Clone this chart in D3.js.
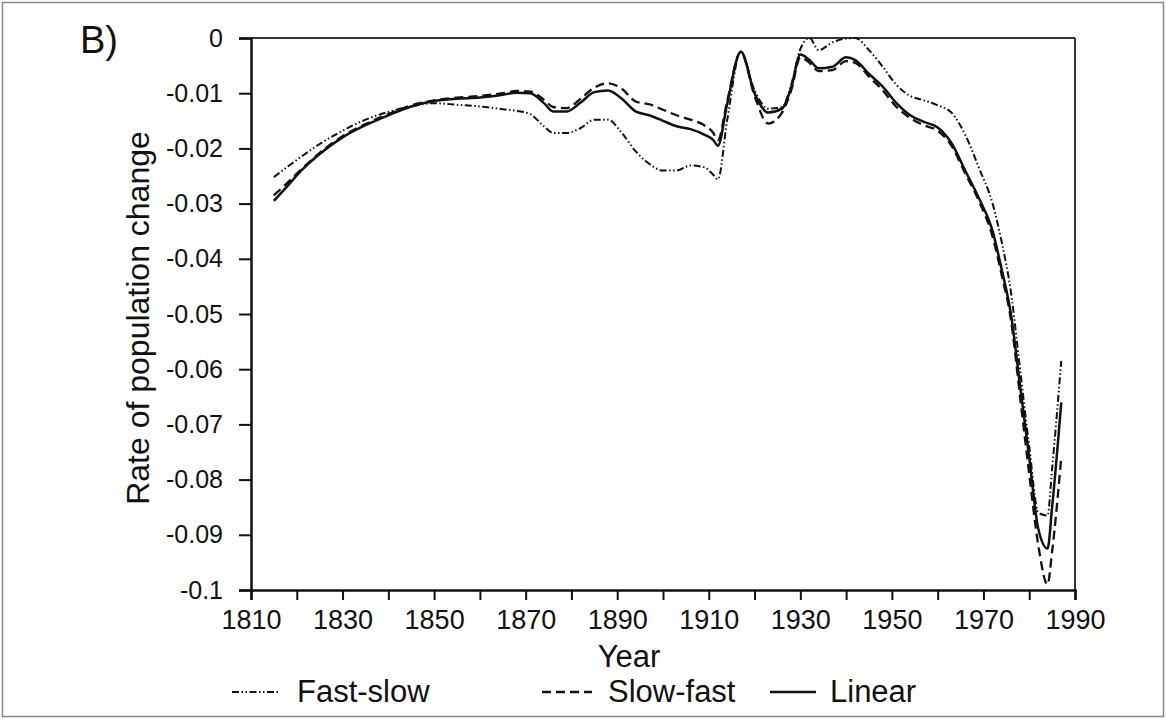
<!DOCTYPE html>
<html><head><meta charset="utf-8">
<script src="https://cdn.jsdelivr.net/npm/d3@7"></script>
<style>body{margin:0;background:#fff}svg{display:block;font-family:"Liberation Sans",Arial,sans-serif}</style>
</head><body><svg id="c" width="1166" height="719"></svg>
<script>
const years = [1815,1818,1821,1825,1830,1835,1840,1845,1850,1855,1860,1865,1868,1871,1874,1876,1879,1882,1885,1888,1891,1894,1897,1900,1903,1906,1909,1911,1912,1914,1917,1920,1923,1926,1928,1930,1932,1934,1937,1940,1942,1945,1948,1951,1954,1957,1960,1963,1966,1969,1972,1974,1976,1978,1980,1982,1984,1985,1987];
const fastSlow = [-0.0252,-0.0233,-0.0215,-0.0192,-0.0168,-0.0148,-0.0134,-0.0124,-0.0118,-0.0121,-0.0124,-0.0129,-0.0132,-0.0138,-0.0160,-0.0172,-0.0172,-0.0163,-0.0148,-0.0148,-0.0172,-0.0205,-0.0228,-0.0240,-0.0240,-0.0231,-0.0234,-0.0248,-0.0256,-0.0150,-0.0025,-0.0095,-0.0128,-0.0125,-0.0085,-0.0020,0.0000,-0.0022,-0.0008,-0.0001,0.0000,-0.0022,-0.0052,-0.0085,-0.0105,-0.0113,-0.0122,-0.0135,-0.0175,-0.0235,-0.0300,-0.0370,-0.0460,-0.0600,-0.0740,-0.0860,-0.0865,-0.0780,-0.0585];
const slowFast = [-0.0285,-0.0262,-0.0238,-0.0208,-0.0178,-0.0156,-0.0138,-0.0122,-0.0113,-0.0108,-0.0105,-0.0100,-0.0096,-0.0097,-0.0112,-0.0125,-0.0127,-0.0110,-0.0090,-0.0082,-0.0092,-0.0115,-0.0120,-0.0130,-0.0140,-0.0148,-0.0158,-0.0172,-0.0185,-0.0115,-0.0025,-0.0105,-0.0155,-0.0135,-0.0095,-0.0035,-0.0045,-0.0060,-0.0058,-0.0042,-0.0045,-0.0070,-0.0095,-0.0125,-0.0145,-0.0158,-0.0168,-0.0195,-0.0245,-0.0295,-0.0360,-0.0430,-0.0510,-0.0650,-0.0790,-0.0920,-0.0990,-0.0930,-0.0760];
const linear = [-0.0295,-0.0268,-0.0240,-0.0210,-0.0180,-0.0158,-0.0140,-0.0124,-0.0114,-0.0110,-0.0108,-0.0103,-0.0099,-0.0100,-0.0118,-0.0133,-0.0133,-0.0117,-0.0098,-0.0095,-0.0110,-0.0133,-0.0140,-0.0150,-0.0160,-0.0165,-0.0175,-0.0185,-0.0195,-0.0120,-0.0025,-0.0100,-0.0135,-0.0128,-0.0090,-0.0030,-0.0040,-0.0055,-0.0052,-0.0035,-0.0040,-0.0065,-0.0088,-0.0118,-0.0140,-0.0152,-0.0162,-0.0190,-0.0240,-0.0290,-0.0350,-0.0420,-0.0500,-0.0630,-0.0760,-0.0890,-0.0925,-0.0850,-0.0660];
const seriesNames = ["Fast-slow","Slow-fast","Linear"];
const xTickLabels = [1810,1830,1850,1870,1890,1910,1930,1950,1970,1990];
const yTickValues = [0,-0.01,-0.02,-0.03,-0.04,-0.05,-0.06,-0.07,-0.08,-0.09,-0.1];

const svg = d3.select("#c");
const L=251, R=1075, T=38, B=590;
const x = d3.scaleLinear().domain([1810,1990]).range([L,R]);
const y = d3.scaleLinear().domain([-0.1,0]).range([B,T]);

svg.append("rect").attr("x",2.5).attr("y",2.5).attr("width",1161).attr("height",714).attr("fill","none").attr("stroke","#888").attr("stroke-width",1.5);

svg.append("defs").append("clipPath").attr("id","clip").append("rect").attr("x",L).attr("y",T-2).attr("width",R-L).attr("height",B-T+4);

svg.append("line").attr("x1",L).attr("x2",R).attr("y1",T).attr("y2",T).attr("stroke","#333").attr("stroke-width",2);
svg.append("line").attr("x1",R).attr("x2",R).attr("y1",T).attr("y2",B).attr("stroke","#333").attr("stroke-width",2);

const xAxis = d3.axisBottom(x).tickValues(d3.range(1810,1991,10)).tickSize(10).tickFormat(d=> xTickLabels.includes(d)? d : "");
const gx = svg.append("g").attr("transform",`translate(0,${B})`).call(xAxis);
gx.select(".domain").attr("stroke","#111").attr("stroke-width",2.5);
gx.selectAll(".tick line").attr("stroke","#111").attr("stroke-width",2);
gx.selectAll(".tick text").attr("font-size",27).attr("fill","#111").attr("y",39).attr("dy",null).attr("font-family","Liberation Sans, Arial");

const yAxis = d3.axisLeft(y).tickValues(yTickValues).tickSize(12).tickFormat(d=> d===0?"0":String(+d.toFixed(2)));
const gy = svg.append("g").attr("transform",`translate(${L},0)`).call(yAxis);
gy.select(".domain").attr("stroke","#111").attr("stroke-width",2.5);
gy.selectAll(".tick line").attr("stroke","#111").attr("stroke-width",2);
gy.selectAll(".tick text").attr("font-size",25).attr("fill","#111").attr("x",-28).attr("font-family","Liberation Sans, Arial");

const styles = [
  {data:fastSlow, dash:"7,2.5,1.5,2.5,1.5,2.5", w:2},
  {data:slowFast, dash:"9,5", w:2.3},
  {data:linear, dash:null, w:2.5}
];
const line = d3.line().x(d=>x(d[0])).y(d=>y(d[1])).curve(d3.curveMonotoneX);
const plot = svg.append("g").attr("clip-path","url(#clip)");
styles.forEach(s=>{
  plot.append("path").datum(years.map((yr,i)=>[yr,s.data[i]]))
    .attr("d",line).attr("fill","none").attr("stroke","#111").attr("stroke-width",s.w)
    .attr("stroke-dasharray",s.dash).attr("stroke-linejoin","round");
});

svg.append("text").attr("x",80).attr("y",53).attr("font-size",38).attr("fill","#111").text("B)");
svg.append("text").attr("transform","translate(149,318) rotate(-90)").attr("text-anchor","middle").attr("font-size",32).attr("fill","#111").text("Rate of population change");
svg.append("text").attr("x",629).attr("y",667).attr("text-anchor","middle").attr("font-size",31).attr("fill","#111").text("Year");

const legendPos = [{lx:232,lw:46,tx:297},{lx:542,lw:50,tx:608},{lx:770,lw:46,tx:830}];
seriesNames.forEach((n,i)=>{
  const p = legendPos[i], s = styles[i];
  svg.append("line").attr("x1",p.lx).attr("x2",p.lx+p.lw).attr("y1",692).attr("y2",692)
    .attr("stroke","#111").attr("stroke-width",s.w).attr("stroke-dasharray",s.dash);
  svg.append("text").attr("x",p.tx).attr("y",702).attr("font-size",31).attr("fill","#111").text(n);
});
</script></body></html>
